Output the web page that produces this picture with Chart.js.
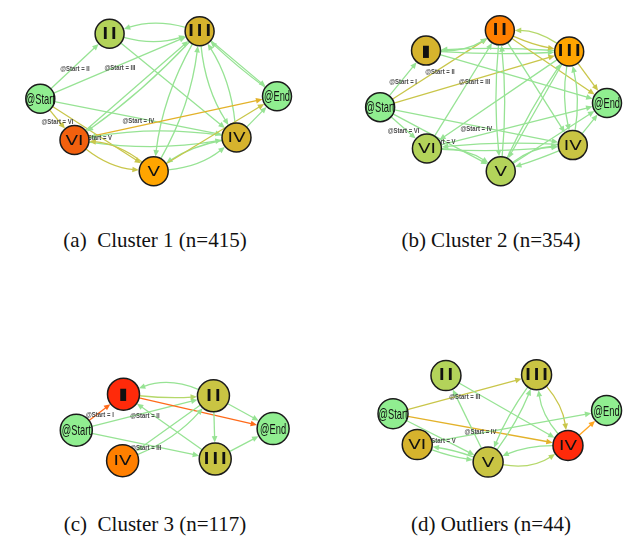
<!DOCTYPE html>
<html>
<head>
<meta charset="utf-8">
<script src="https://cdn.jsdelivr.net/npm/chart.js@4.4.0/dist/chart.umd.min.js"></script>
<style>
body { margin: 0; background: #fff; width: 641px; height: 540px; position: relative; overflow: hidden; }
.panel { position: absolute; }
.cap { position: absolute; font-family: 'Liberation Serif', serif; font-size: 21px; white-space: pre; color: #111; transform: translate(-50%, -50%); }
</style>
</head>
<body>
<div class="panel" style="left:0;top:0"><canvas id="chartA" width="320" height="205"></canvas></div>
<div class="panel" style="left:320px;top:0"><canvas id="chartB" width="321" height="205"></canvas></div>
<div class="panel" style="left:0;top:340px"><canvas id="chartC" width="320" height="160"></canvas></div>
<div class="panel" style="left:320px;top:340px"><canvas id="chartD" width="321" height="160"></canvas></div>
<div class="cap" style="left:155px;top:240px">(a)  Cluster 1 (n=415)</div>
<div class="cap" style="left:491px;top:240px">(b) Cluster 2 (n=354)</div>
<div class="cap" style="left:155px;top:524px">(c)  Cluster 3 (n=117)</div>
<div class="cap" style="left:491px;top:524px">(d) Outliers (n=44)</div>
<script>
// colour levels (0 = rare ... 7 = most frequent)
var nodeColors = ['#90EE90', '#B3D35A', '#C9C443', '#D6B32D', '#FFA500', '#FF7F00', '#F2600E', '#FF2A0A'];
var edgeColors = ['#97E394', '#B5D86A', '#C9C64A', '#E3B22A', '#FFA521', '#FF6A1A'];

// (a) Cluster 1
var nodesA = ['@Start', 'II', 'III', '@End', 'VI', 'IV', 'V'];
var xA = [27, 104, 204, 290, 65, 245, 153];
var yA = [98, 21, 18, 95, 147, 144, 184];
var heatA = [0, 1, 3, 0, 6, 3, 4];
var edgesA = [
    ['@Start', 'II', 0, 0], ['@Start', 'III', 0, 0], ['@Start', 'VI', 0, 2],
    ['@Start', 'IV', 0, 0], ['@Start', 'V', 0, 2],
    ['II', 'III', -0.15, 0], ['III', 'II', -0.15, 0], ['II', 'IV', 0, 0],
    ['III', '@End', 0, 0], ['@End', 'III', 0.03, 0], ['VI', 'III', 0, 0], ['III', 'VI', 0.05, 0],
    ['III', 'V', -0.1, 0], ['V', 'III', -0.1, 0], ['III', 'IV', -0.12, 0], ['IV', 'III', -0.12, 0],
    ['VI', '@End', 0, 3], ['VI', 'IV', -0.08, 0], ['IV', 'VI', -0.08, 0],
    ['VI', 'V', -0.15, 2], ['V', 'VI', -0.15, 2], ['V', 'IV', -0.15, 0], ['IV', 'V', -0.1, 0],
    ['IV', '@End', 0, 0], ['V', '@End', 0, 2]
];

// (b) Cluster 2
var nodesB = ['@Start', 'I', 'II', 'III', '@End', 'VI', 'IV', 'V'];
var xB = [49, 100, 182, 259, 301, 101, 263, 183];
var yB = [108, 41, 17, 42, 103, 157, 153, 184];
var heatB = [0, 3, 5, 4, 0, 1, 2, 1];
var edgesB = [
    ['@Start', 'I', 0, 0], ['@Start', 'II', 0, 2], ['@Start', 'III', 0, 2],
    ['@Start', 'VI', 0, 0], ['@Start', 'IV', 0, 0], ['@Start', 'V', 0, 0],
    ['I', 'II', -0.15, 0], ['I', 'III', -0.03, 0], ['III', 'I', -0.03, 0],
    ['III', 'II', -0.15, 1], ['II', 'III', -0.06, 2], ['II', '@End', 0, 2], ['III', '@End', 0, 2],
    ['I', '@End', 0, 0], ['II', 'V', -0.05, 0], ['V', 'II', -0.05, 0], ['II', 'IV', 0, 0],
    ['III', 'VI', 0, 0], ['III', 'V', 0, 0], ['V', 'III', 0.04, 0], ['VI', 'II', 0, 0],
    ['III', 'IV', -0.1, 0], ['IV', 'III', -0.1, 0],
    ['VI', '@End', 0, 0], ['V', '@End', 0, 0], ['IV', '@End', 0, 0],
    ['VI', 'IV', -0.04, 0], ['IV', 'VI', -0.04, 0],
    ['VI', 'V', 0.15, 0], ['V', 'IV', 0.15, 0], ['IV', 'V', 0.02, 0]
];

// (c) Cluster 3
var nodesC = ['@Start', 'I', 'II', '@End', 'IV', 'III'];
var xC = [66, 119, 220, 287, 118, 222];
var yC = [93, 47, 49, 91, 132, 130];
var heatC = [0, 7, 2, 0, 5, 2];
var edgesC = [
    ['@Start', 'I', 0, 5], ['@Start', 'II', 0, 0], ['@Start', 'III', 0, 0],
    ['I', '@End', 0, 5], ['II', 'I', -0.2, 0], ['I', 'II', -0.04, 1],
    ['II', '@End', 0, 0], ['II', 'III', 0, 0], ['III', 'I', 0, 0],
    ['II', 'IV', 0, 0], ['IV', 'II', -0.12, 0], ['III', '@End', 0, 0]
];

// (d) Outliers
var nodesD = ['@Start', 'II', 'III', '@End', 'VI', 'IV', 'V'];
var xD = [63, 122, 223, 301, 90, 258, 169];
var yD = [72, 24, 23, 68, 111, 112, 133];
var heatD = [0, 1, 2, 0, 3, 7, 2];
var edgesD = [
    ['@Start', 'III', 0, 2], ['@Start', 'IV', 0, 3], ['@Start', 'V', 0, 0],
    ['II', 'IV', 0, 0], ['V', 'II', 0, 0],
    ['V', 'III', -0.06, 0], ['III', 'V', -0.06, 0],
    ['III', 'IV', 0.15, 2], ['IV', 'III', 0.15, 0],
    ['IV', '@End', 0, 4], ['VI', '@End', 0, 0],
    ['V', 'VI', -0.05, 0], ['VI', 'V', -0.05, 0],
    ['V', 'IV', -0.2, 1], ['IV', 'V', -0.1, 0]
];

/**
 * Desenhar uma aresta curva com seta no destino
 */
function drawEdge(ctx, p0, p1, bend, r, color) {
    var dx = p1.x - p0.x, dy = p1.y - p0.y;
    var cx = (p0.x + p1.x) / 2 + dy * bend;
    var cy = (p0.y + p1.y) / 2 - dx * bend;
    var a0 = Math.atan2(cy - p0.y, cx - p0.x);
    var a1 = Math.atan2(p1.y - cy, p1.x - cx);
    var sx = p0.x + Math.cos(a0) * r, sy = p0.y + Math.sin(a0) * r;
    var ex = p1.x - Math.cos(a1) * (r + 0.5), ey = p1.y - Math.sin(a1) * (r + 0.5);
    var al = 7;
    ctx.strokeStyle = color;
    ctx.fillStyle = color;
    ctx.lineWidth = 1.3;
    ctx.beginPath();
    ctx.moveTo(sx, sy);
    ctx.quadraticCurveTo(cx, cy, ex - Math.cos(a1) * al * 0.7, ey - Math.sin(a1) * al * 0.7);
    ctx.stroke();
    ctx.beginPath();
    ctx.moveTo(ex, ey);
    ctx.lineTo(ex - al * Math.cos(a1 - 0.42), ey - al * Math.sin(a1 - 0.42));
    ctx.lineTo(ex - al * Math.cos(a1 + 0.42), ey - al * Math.sin(a1 + 0.42));
    ctx.closePath();
    ctx.fill();
}

/**
 * Texto com espaçamento entre letras, centrado
 */
function drawSpaced(ctx, text, cx, cy, gap) {
    var widths = [], total = 0;
    for (var i = 0; i < text.length; i++) {
        widths.push(ctx.measureText(text[i]).width);
        total += widths[i] + (i > 0 ? gap : 0);
    }
    var x = cx - total / 2;
    ctx.textAlign = 'left';
    for (var j = 0; j < text.length; j++) {
        ctx.fillText(text[j], x, cy);
        x += widths[j] + gap;
    }
}

function makeGraphPlugin(names, edges, radius) {
    function pos(chart, name) {
        var d = chart.data.datasets[0].data[names.indexOf(name)];
        return { x: chart.scales.x.getPixelForValue(d.x), y: chart.scales.y.getPixelForValue(d.y) };
    }
    return {
        id: 'graph',
        beforeDatasetsDraw: function(chart) {
            var ctx = chart.ctx;
            ctx.save();
            edges.forEach(function(e) {
                drawEdge(ctx, pos(chart, e[0]), pos(chart, e[1]), e[2], radius, edgeColors[e[3]]);
            });
            // rótulos das arestas de @Start
            ctx.fillStyle = '#4a4a4a';
            ctx.textBaseline = 'middle';
            ctx.textAlign = 'center';
            edges.forEach(function(e) {
                if (e[0] !== '@Start') return;
                var p0 = pos(chart, e[0]), p1 = pos(chart, e[1]);
                ctx.save();
                ctx.translate((p0.x + p1.x) / 2, (p0.y + p1.y) / 2 + 3);
                ctx.scale(0.85, 1);
                ctx.font = 'bold 7px "Liberation Sans"';
                ctx.fillText('@Start = ' + e[1], 0, 0);
                ctx.restore();
            });
            ctx.restore();
        },
        afterDatasetsDraw: function(chart) {
            var ctx = chart.ctx;
            ctx.save();
            ctx.fillStyle = '#111';
            ctx.textBaseline = 'middle';
            names.forEach(function(n) {
                var p = pos(chart, n);
                if (n.charAt(0) === '@') {
                    ctx.save();
                    ctx.translate(p.x, p.y + 1);
                    ctx.scale(0.62, 1);
                    ctx.font = '15px "Liberation Sans"';
                    ctx.textAlign = 'center';
                    ctx.fillText(n, 0, 0);
                    ctx.restore();
                } else if (n === 'I') {
                    ctx.font = 'bold 16px "DejaVu Sans"';
                    ctx.textAlign = 'center';
                    ctx.fillText('\u25AE', p.x, p.y + 1);
                } else if (n.indexOf('V') >= 0) {
                    ctx.font = '16px "DejaVu Sans"';
                    ctx.save();
                    ctx.translate(p.x, p.y + 1);
                    ctx.scale(1.15, 0.9);
                    drawSpaced(ctx, n, 0, 0, 0);
                    ctx.restore();
                } else {
                    ctx.font = 'bold 15px "DejaVu Sans"';
                    drawSpaced(ctx, n, p.x, p.y + 1, 3);
                }
            });
            ctx.restore();
        }
    };
}

function makeGraph(canvasId, names, xs, ys, heat, edges, radius) {
    var el = document.getElementById(canvasId);
    var w = el.width, h = el.height;
    return new Chart(el, {
        type: 'scatter',
        data: {
            datasets: [{
                data: names.map(function(n, i) { return { x: xs[i], y: ys[i] }; }),
                pointRadius: radius,
                pointHoverRadius: radius,
                backgroundColor: heat.map(function(v) { return nodeColors[v]; }),
                borderColor: '#1b1b1b',
                borderWidth: 1.5,
                clip: false
            }]
        },
        options: {
            responsive: false,
            animation: false,
            events: [],
            layout: { padding: 0 },
            plugins: { legend: { display: false }, tooltip: { enabled: false } },
            scales: {
                x: { type: 'linear', min: 0, max: w, display: false },
                y: { type: 'linear', min: 0, max: h, reverse: true, display: false }
            }
        },
        plugins: [makeGraphPlugin(names, edges, radius)]
    });
}

makeGraph('chartA', nodesA, xA, yA, heatA, edgesA, 14.5);
makeGraph('chartB', nodesB, xB, yB, heatB, edgesB, 14.5);
makeGraph('chartC', nodesC, xC, yC, heatC, edgesC, 16);
makeGraph('chartD', nodesD, xD, yD, heatD, edgesD, 15);
</script>
</body>
</html>
